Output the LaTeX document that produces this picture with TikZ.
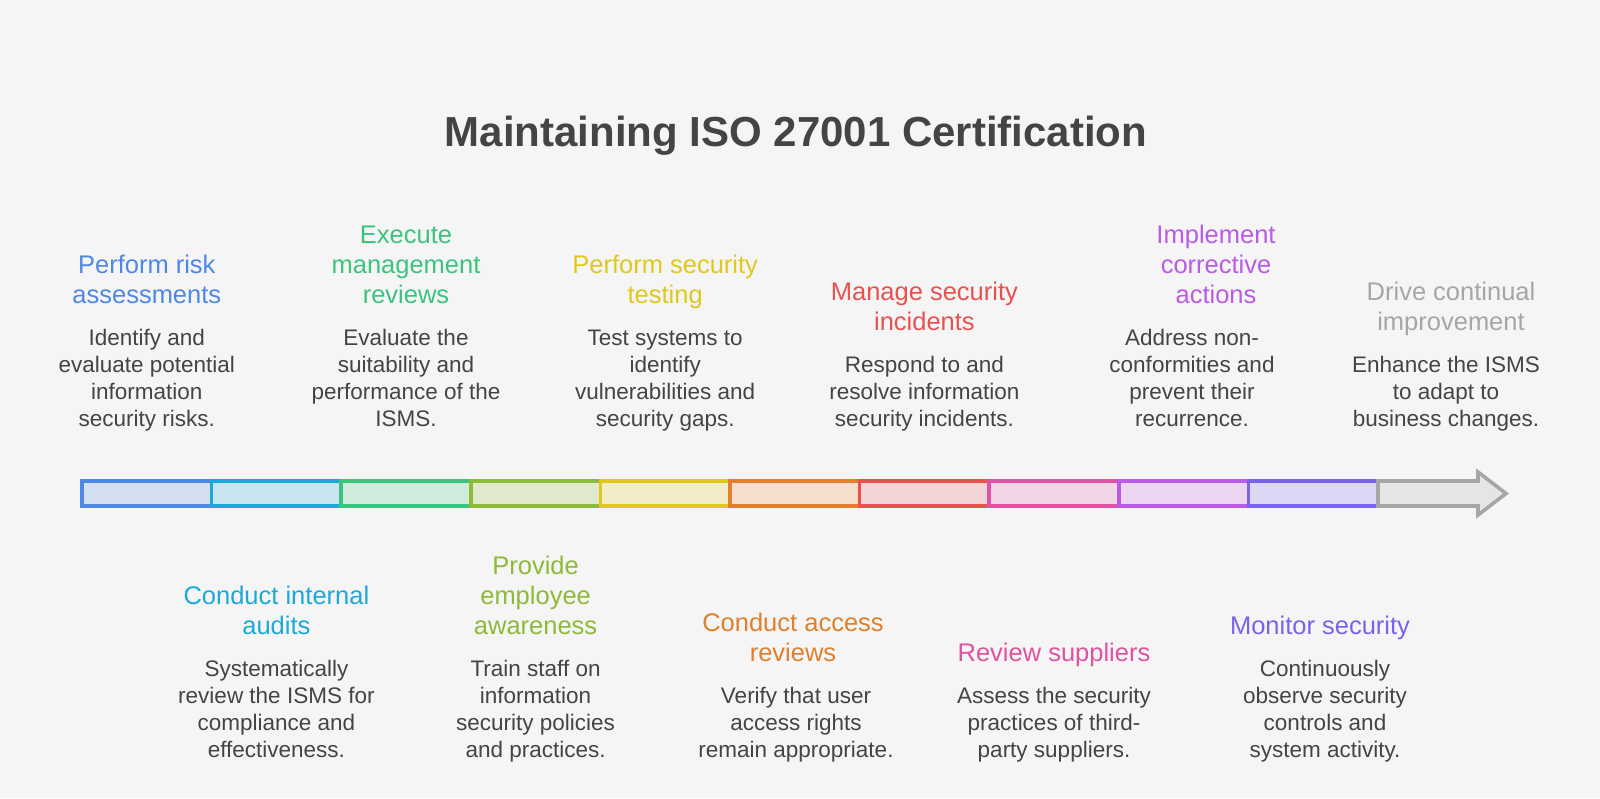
\documentclass[tikz,border=0pt]{standalone}
\usepackage{fontspec}
\setmainfont{Liberation Sans}
\usetikzlibrary{positioning}

\definecolor{bg}{HTML}{F5F5F5}
\definecolor{ink}{HTML}{444444}
\definecolor{cA}{HTML}{4E88E6}\definecolor{fA}{HTML}{D4DEF1}
\definecolor{cB}{HTML}{1BA9D9}\definecolor{fB}{HTML}{CAE5F0}
\definecolor{cC}{HTML}{3BC47E}\definecolor{fC}{HTML}{D0EBDC}
\definecolor{cD}{HTML}{8DBA38}\definecolor{fD}{HTML}{E1E9CC}
\definecolor{cE}{HTML}{E0C81C}\definecolor{fE}{HTML}{F3EDC7}
\definecolor{cF}{HTML}{E37F2B}\definecolor{fF}{HTML}{F3DFCB}
\definecolor{cG}{HTML}{E9514F}\definecolor{fG}{HTML}{F2D5D4}
\definecolor{cH}{HTML}{E052A3}\definecolor{fH}{HTML}{F1D6E7}
\definecolor{cI}{HTML}{BB5AE6}\definecolor{fI}{HTML}{EBD6F1}
\definecolor{cJ}{HTML}{7A63E9}\definecolor{fJ}{HTML}{DCD7F4}
\definecolor{cK}{HTML}{A6A6A6}\definecolor{fK}{HTML}{E5E5E5}

\begin{document}
\begin{tikzpicture}[x=1pt,y=-1pt,
  seg/.style={line width=3.6pt},
  desc/.style={align=center,inner sep=0pt,text=ink,anchor=south,
    font=\fontsize{22.5}{27}\selectfont},
  head/.style={align=center,inner sep=0pt,node distance=14.1pt,
    font=\fontsize{25.5}{30}\selectfont}]
	% Canvas
	\fill[bg] (0,0) rectangle (1600,798);
	\useasboundingbox (0,0) rectangle (1600,798);
	
	% Parameters
	\def\bx{82}
	\def\bw{129.6}
	\def\btop{481}
	\def\bbot{506}
	\def\topy{435.1} % last baseline 427
	\def\boty{766.1} % last baseline 758
	
	% Title
	\node[anchor=base,text=ink,font=\fontsize{42}{50}\selectfont\bfseries] (title) at (796,146) {Maintaining ISO 27001 Certification};
	
	% Bar segments
	\draw[seg,cA,fill=fA] (\bx,\btop) rectangle ({\bx+\bw},\bbot);
	\draw[seg,cB,fill=fB] ({\bx+\bw},\btop) rectangle ({\bx+2*\bw},\bbot);
	\draw[seg,cC,fill=fC] ({\bx+2*\bw},\btop) rectangle ({\bx+3*\bw},\bbot);
	\draw[seg,cD,fill=fD] ({\bx+3*\bw},\btop) rectangle ({\bx+4*\bw},\bbot);
	\draw[seg,cE,fill=fE] ({\bx+4*\bw},\btop) rectangle ({\bx+5*\bw},\bbot);
	\draw[seg,cF,fill=fF] ({\bx+5*\bw},\btop) rectangle ({\bx+6*\bw},\bbot);
	\draw[seg,cG,fill=fG] ({\bx+6*\bw},\btop) rectangle ({\bx+7*\bw},\bbot);
	\draw[seg,cH,fill=fH] ({\bx+7*\bw},\btop) rectangle ({\bx+8*\bw},\bbot);
	\draw[seg,cI,fill=fI] ({\bx+8*\bw},\btop) rectangle ({\bx+9*\bw},\bbot);
	\draw[seg,cJ,fill=fJ] ({\bx+9*\bw},\btop) rectangle ({\bx+10*\bw},\bbot);
	
	% Arrow head
	\draw[seg,cK,fill=fK,line join=miter] ({\bx+10*\bw},\btop) -- (1478,\btop)
	-- (1478,472) -- (1506,493.5) -- (1478,515)
	-- (1478,\bbot) -- ({\bx+10*\bw},\bbot) -- cycle;
	
	% Steps above the bar
	\node[desc] (riskdesc) at ({\bx+0.5*\bw},\topy) {\strut Identify and\\evaluate potential\\information\\security risks.\strut};
	\node[head,text=cA,above=of riskdesc] (risk) {\strut Perform risk\\assessments\strut};
	
	\node[desc] (reviewdesc) at ({\bx+2.5*\bw},\topy) {\strut Evaluate the\\suitability and\\performance of the\\ISMS.\strut};
	\node[head,text=cC,above=of reviewdesc] (review) {\strut Execute\\management\\reviews\strut};
	
	\node[desc] (testdesc) at ({\bx+4.5*\bw},\topy) {\strut Test systems to\\identify\\vulnerabilities and\\security gaps.\strut};
	\node[head,text=cE,above=of testdesc] (test) {\strut Perform security\\testing\strut};
	
	\node[desc] (incidentdesc) at ({\bx+6.5*\bw},\topy) {\strut Respond to and\\resolve information\\security incidents.\strut};
	\node[head,text=cG,above=of incidentdesc] (incident) {\strut Manage security\\incidents\strut};
	
	\node[desc] (correctdesc) at (1192,\topy) {\strut Address non-\\conformities and\\prevent their\\recurrence.\strut};
	\node[head,text=cI,above=of correctdesc,xshift=24pt] (correct) {\strut Implement\\corrective\\actions\strut};
	
	\node[desc] (improvedesc) at (1446,\topy) {\strut Enhance the ISMS\\to adapt to\\business changes.\strut};
	\node[head,text=cK,above=of improvedesc,xshift=5pt] (improve) {\strut Drive continual\\improvement\strut};
	
	% Steps below the bar
	\node[desc] (auditdesc) at ({\bx+1.5*\bw},\boty) {\strut Systematically\\review the ISMS for\\compliance and\\effectiveness.\strut};
	\node[head,text=cB,above=of auditdesc] (audit) {\strut Conduct internal\\audits\strut};
	
	\node[desc] (awaredesc) at ({\bx+3.5*\bw},\boty) {\strut Train staff on\\information\\security policies\\and practices.\strut};
	\node[head,text=cD,above=of awaredesc] (aware) {\strut Provide\\employee\\awareness\strut};
	
	\node[desc] (accessdesc) at (796,\boty) {\strut Verify that user\\access rights\\remain appropriate.\strut};
	\node[head,text=cF,above=of accessdesc,xshift=-3pt] (access) {\strut Conduct access\\reviews\strut};
	
	\node[desc] (supplierdesc) at ({\bx+7.5*\bw},\boty) {\strut Assess the security\\practices of third-\\party suppliers.\strut};
	\node[head,text=cH,above=of supplierdesc] (supplier) {\strut Review suppliers\strut};
	
	\node[desc] (monitordesc) at (1325,\boty) {\strut Continuously\\observe security\\controls and\\system activity.\strut};
	\node[head,text=cJ,above=of monitordesc,xshift=-5pt] (monitor) {\strut Monitor security\strut};
	
\end{tikzpicture}
\end{document}
